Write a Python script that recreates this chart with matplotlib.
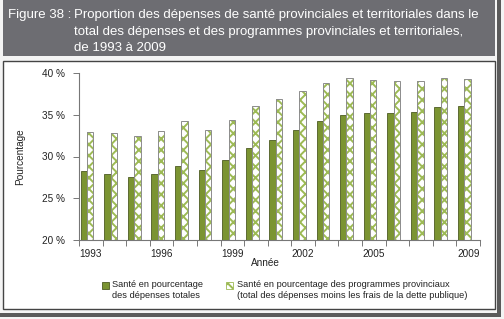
import numpy as np
import matplotlib.pyplot as plt
from matplotlib.patches import Rectangle

plt.rcParams['font.family'] = ['Liberation Sans', 'DejaVu Sans']
plt.rcParams['hatch.linewidth'] = 1.4

# data
years = list(range(1993, 2010))
sante_totales = [28.3, 27.9, 27.5, 27.9, 28.9, 28.4, 29.6, 31.0, 32.0, 33.2,
                 34.3, 35.0, 35.2, 35.2, 35.3, 35.9, 36.0]
sante_programmes = [32.9, 32.8, 32.4, 33.0, 34.2, 33.2, 34.4, 36.0, 36.9, 37.8,
                    38.8, 39.4, 39.2, 39.0, 39.0, 39.4, 39.3]
shown_years = [1993, 1996, 1999, 2002, 2005, 2009]
y_ticks = [20, 25, 30, 35, 40]
labels = ['Santé en pourcentage\ndes dépenses totales',
          'Santé en pourcentage des programmes provinciaux\n(total des dépenses moins les frais de la dette publique)']

green = '#7b9432'
hatch_green = '#9dba55'

W, H = 504, 319
fig = plt.figure(figsize=(W / 100, H / 100), dpi=100)

def fx(px):
    return px / W

def fy(py):
    return 1 - py / H

def box(x0, y0, x1, y1, **kw):
    # rectangle given in pixel coords from top-left, drawn behind the axes
    fig.patches.append(Rectangle((fx(x0), fy(y1)), fx(x1 - x0), (y1 - y0) / H,
                                 transform=fig.transFigure, zorder=-1, **kw))

# frame / shadow like the screenshot
box(497, 0, 501, 317, facecolor='#5a5a5a', edgecolor='none')
box(0, 313, 501, 317, facecolor='#5a5a5a', edgecolor='none')
box(3, 60.5, 495, 309, facecolor='white', edgecolor='#444444', linewidth=1)
# title box
box(3, 0, 495, 56, facecolor='#6d6d72', edgecolor='none')
title_font = dict(color='white', fontsize=9.5, va='center', ha='left')
fig.text(fx(8), fy(15), 'Figure 38 :', **title_font)
fig.text(fx(74), fy(15), 'Proportion des dépenses de santé provinciales et territoriales dans le',
         **title_font)
fig.text(fx(74), fy(31.5), 'total des dépenses et des programmes provinciales et territoriales,',
         **title_font)
fig.text(fx(74), fy(48), 'de 1993 à 2009', **title_font)

ax = fig.add_axes([fx(79), fy(240), fx(401), (240 - 73) / H])
ax.patch.set_alpha(0)

x = np.arange(len(years))
w = 0.27
off_g = -0.5 + 0.07 + w / 2
off_h = -0.5 + 0.34 + w / 2
ax.bar(x + off_g, sante_totales, w, color=green, edgecolor='#4d5c22',
       linewidth=0.6, zorder=2)
ax.bar(x + off_h, sante_programmes, w, color='white', edgecolor=hatch_green,
       hatch='xxx', linewidth=0, zorder=2)
ax.bar(x + off_h, sante_programmes, w, color='none', edgecolor='#8c8c8c',
       linewidth=0.7, zorder=3)

ax.set_ylim(20, 40)
ax.set_xlim(-0.5, len(years) - 0.5)
ax.set_yticks(y_ticks)
ax.set_yticklabels([f'{v} %' for v in y_ticks])
ax.set_xticks([years.index(y) for y in shown_years])
ax.set_xticklabels([str(y) for y in shown_years])
ax.set_xticks(np.arange(len(years) + 1) - 0.5, minor=True)
ax.tick_params(axis='x', which='major', length=0, pad=6.5, labelsize=7.2, colors='#222222')
ax.tick_params(axis='x', which='minor', length=4, width=0.7, color='#777777', direction='out')
ax.tick_params(axis='y', length=4, width=0.7, color='#777777', pad=6, labelsize=7.2,
               labelcolor='#222222')
for s in ['top', 'right']:
    ax.spines[s].set_visible(False)
for s in ['left', 'bottom']:
    ax.spines[s].set_color('#777777')
    ax.spines[s].set_linewidth(0.8)

ax.set_ylabel('Pourcentage', fontsize=7.2, color='#222222')
ax.yaxis.set_label_coords(-0.135, 0.5)
ax.set_xlabel('Année', fontsize=7.2, color='#222222')
ax.xaxis.set_label_coords(0.466, -0.11)

# legend, drawn by hand so the swatch sits next to the first line
box(102, 282, 109, 289, facecolor=green, edgecolor='#4d5c22', linewidth=0.6)
box(226, 282, 233, 289, facecolor='white', edgecolor=hatch_green, hatch='xxx', linewidth=0.6)
leg_font = dict(fontsize=6.7, color='#222222', va='top', ha='left', linespacing=1.25)
fig.text(fx(112.5), fy(280), labels[0], **leg_font)
fig.text(fx(237), fy(280), labels[1], **leg_font)

fig.savefig('out.png', dpi=100, facecolor='#f4f4f4')
